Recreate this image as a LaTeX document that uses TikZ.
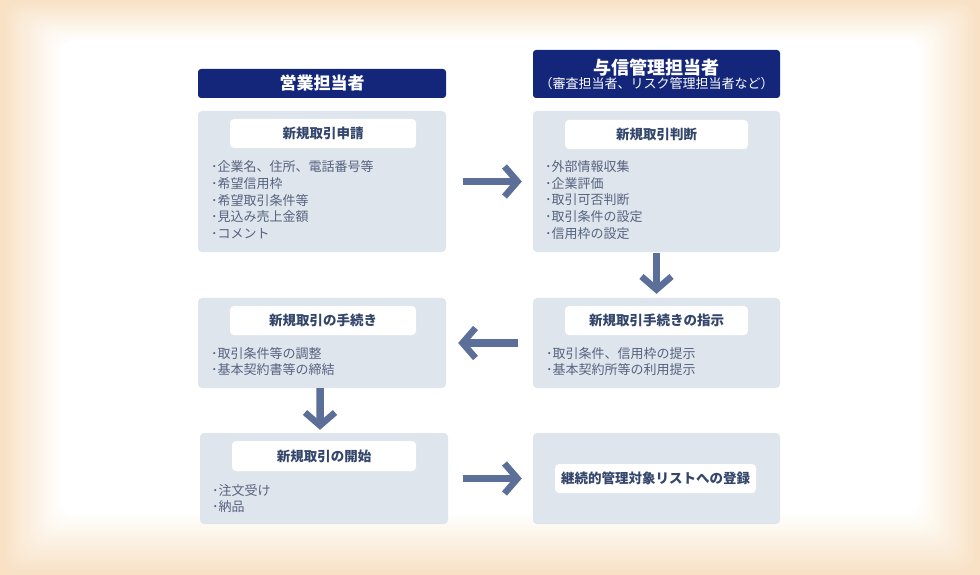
\documentclass[tikz,border=0pt]{standalone}
\usepackage{fontspec}
\setmainfont{Noto Sans CJK JP}
\usetikzlibrary{arrows.meta}
\definecolor{navy}{HTML}{13267A}
\definecolor{boxbg}{HTML}{DFE5ED}
\definecolor{ttl}{HTML}{34466B}
\definecolor{itm}{HTML}{56637F}
\definecolor{arrc}{HTML}{5C6F98}
\definecolor{peach}{HTML}{F8E1C4}
\tikzset{
  hdr/.style={fill=navy, rounded corners=3bp, inner sep=0pt, text=white},
  box/.style={fill=boxbg, rounded corners=4bp, inner sep=0pt},
  lbl/.style={fill=white, rounded corners=4bp, inner sep=0pt, text=ttl,
    font=\fontsize{13.5bp}{16bp}\selectfont\bfseries},
  items/.style={anchor=west, inner sep=0pt, align=left, text=itm,
    font=\fontsize{13bp}{16.7bp}\selectfont},
  arr/.style={draw=arrc, line width=7.5bp,
    -{Straight Barb[length=13bp, width=30bp, line width=6.5bp]}},
}
\begin{document}
\begin{tikzpicture}[x=1bp,y=-1bp]
\useasboundingbox (0,0) rectangle (980,575);
\fill[peach] (0,0) rectangle (980,575);
\foreach \i in {1,...,20}{
  \pgfmathtruncatemacro{\p}{5*\i}
  \fill[white!\p!peach, rounded corners=14bp] (\i*3, \i*2) rectangle (980-\i*3, 575-\i*3);
}

% headers
\node[hdr, minimum width=248bp, minimum height=29bp] (h1) at (322,83.5)
  {\fontsize{17bp}{20bp}\selectfont\bfseries 営業担当者};
\node[hdr, minimum width=247bp, minimum height=48bp] (h2) at (656.5,74) {};
\node[text=white, inner sep=0pt] (h2t) at (656.5,67.5)
  {\fontsize{18bp}{21bp}\selectfont\bfseries 与信管理担当者};
\node[text=white, inner sep=0pt] (h2s) at (656.5,84)
  {\fontsize{13bp}{15bp}\selectfont （審査担当者、リスク管理担当者など）};

% boxes
\node[box, minimum width=248bp, minimum height=141bp] (b1) at (322,181.5) {};
\node[box, minimum width=247bp, minimum height=141bp] (b2) at (656.5,181.5) {};
\node[box, minimum width=247bp, minimum height=90bp] (b3) at (656.5,343) {};
\node[box, minimum width=248bp, minimum height=90bp] (b4) at (322,343) {};
\node[box, minimum width=248bp, minimum height=91bp] (b5) at (324,478.5) {};
\node[box, minimum width=247bp, minimum height=91bp] (b6) at (656.5,478.5) {};

% labels
\node[lbl, minimum width=186bp, minimum height=29bp] (l1) at (323,133.5) {新規取引申請};
\node[lbl, minimum width=183bp, minimum height=29bp] (l2) at (656.5,134.5) {新規取引判断};
\node[lbl, minimum width=183bp, minimum height=29bp] (l3) at (656.5,320.5) {新規取引手続きの指示};
\node[lbl, minimum width=186bp, minimum height=29bp] (l4) at (323,320.5) {新規取引の手続き};
\node[lbl, minimum width=184bp, minimum height=30bp] (l5) at (324,456) {新規取引の開始};
\node[lbl, minimum width=201bp, minimum height=29bp] (l6) at (655.5,478.5) {継続的管理対象リストへの登録};

% item lists
\node[items] (i1) at (211,200) {･企業名、住所、電話番号等\\･希望信用枠\\･希望取引条件等\\･見込み売上金額\\･コメント};
\node[items] (i2) at (545,200) {･外部情報収集\\･企業評価\\･取引可否判断\\･取引条件の設定\\･信用枠の設定};
\node[items] (i3) at (546,361.5) {･取引条件、信用枠の提示\\･基本契約所等の利用提示};
\node[items] (i4) at (211,361.5) {･取引条件等の調整\\･基本契約書等の締結};
\node[items] (i5) at (212,498.5) {･注文受け\\･納品};

% arrows
\draw[arr, shorten <=17bp, shorten >=11bp] (b1.east) -- (b2.west);
\draw[arr, shorten <=1bp, shorten >=4bp] (b2.south) -- (b3.north);
\draw[arr, shorten <=15bp, shorten >=12bp] (b3.west) -- (b4.east);
\draw[arr, shorten <=0bp, shorten >=3bp] ([xshift=-2bp]b4.south) -- ([xshift=-4bp]b5.north);
\draw[arr, shorten <=15bp, shorten >=11bp] (b5.east) -- (b6.west);
\end{tikzpicture}
\end{document}
